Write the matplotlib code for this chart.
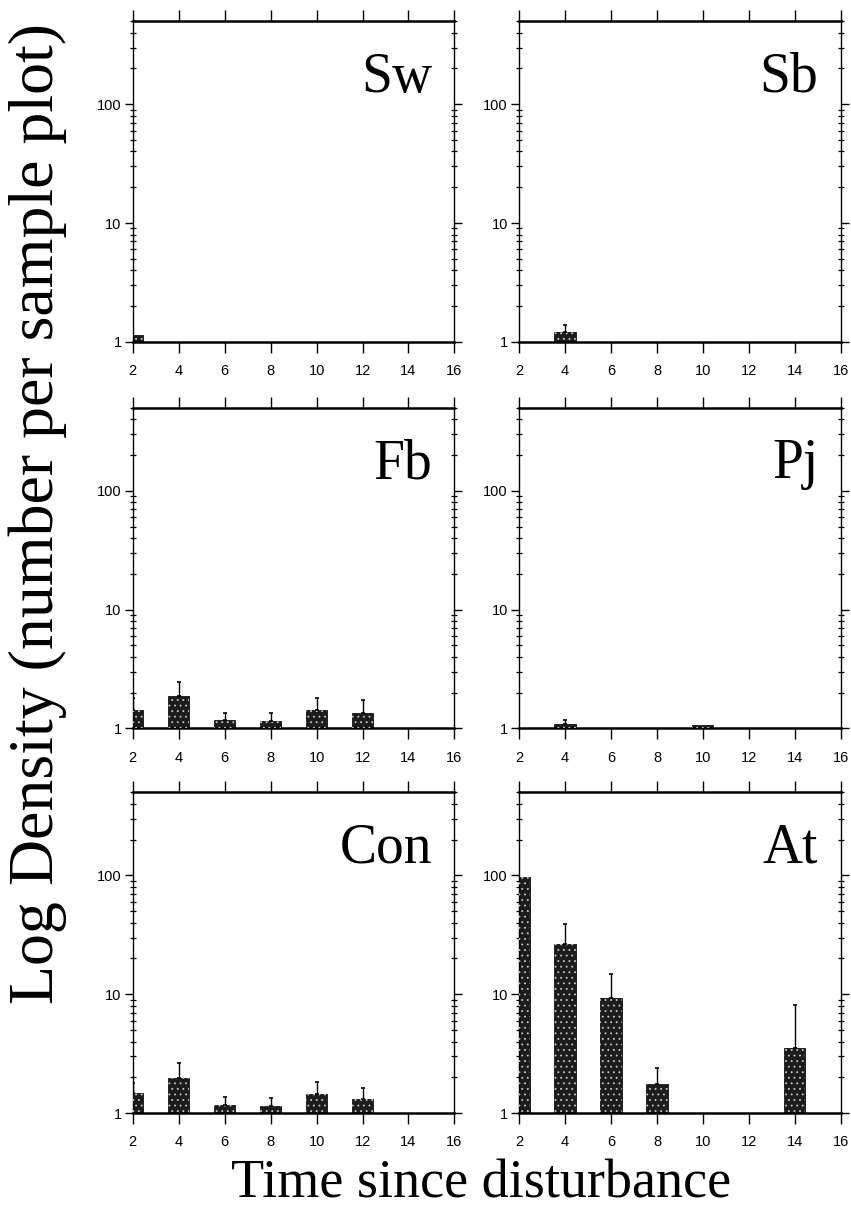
import numpy as np
import matplotlib
matplotlib.use("Agg")
import matplotlib.pyplot as plt
from matplotlib.ticker import LogLocator, NullFormatter, FixedLocator

# time since disturbance (bar positions)
years = [2, 4, 6, 8, 10, 12, 14]
nan = np.nan

# mean density per panel, nan where nothing was recorded
sw_mean = [1.15, nan, nan, nan, nan, nan, nan]
sb_mean = [nan, 1.2, nan, nan, nan, nan, nan]
fb_mean = [1.42, 1.86, 1.17, 1.16, 1.44, 1.34, nan]
pj_mean = [nan, 1.1, nan, nan, 1.07, nan, nan]
con_mean = [1.47, 1.97, 1.17, 1.15, 1.44, 1.31, nan]
at_mean = [97, 26.4, 9.3, 1.75, nan, nan, 3.5]

# upper error (added on top of the mean)
sw_err = [0, 0, 0, 0, 0, 0, 0]
sb_err = [0, 0.19, 0, 0, 0, 0, 0]
fb_err = [0.40, 0.58, 0.17, 0.18, 0.35, 0.41, 0]
pj_err = [0, 0.07, 0, 0, 0, 0, 0]
con_err = [0.33, 0.66, 0.19, 0.19, 0.38, 0.31, 0]
at_err = [0, 12.3, 5.4, 0.64, 0, 0, 4.6]

panels = [
    ("Sw", sw_mean, sw_err),
    ("Sb", sb_mean, sb_err),
    ("Fb", fb_mean, fb_err),
    ("Pj", pj_mean, pj_err),
    ("Con", con_mean, con_err),
    ("At", at_mean, at_err),
]

xticks = [2, 4, 6, 8, 10, 12, 14, 16]

serif = ["Liberation Serif", "DejaVu Serif"]
sans = ["Liberation Sans", "DejaVu Sans"]
plt.rcParams["hatch.linewidth"] = 0.6

fig = plt.figure(figsize=(8.51, 12.08), dpi=100)
fig.patch.set_facecolor("white")

lefts = [0.156, 0.610]
bottoms = [0.717, 0.397, 0.0786]
w, h = 0.378, 0.2655

for i, (name, mean, err) in enumerate(panels):
    row, col = divmod(i, 2)
    ax = fig.add_axes([lefts[col], bottoms[row], w, h])
    ax.set_yscale("log")

    mean = np.array(mean, dtype=float)
    up = np.array(err, dtype=float)
    ax.bar(years, mean, width=0.92, color="#1c1c1c", edgecolor="#111111", linewidth=0.6, zorder=2)
    # speckle texture like the scanned print
    ax.bar(years, mean, width=0.92, color="none", edgecolor="#c8c8c8", hatch="...", linewidth=0, zorder=3)
    has_err = up > 0
    xs = np.array(years)[has_err]
    ax.errorbar(xs, mean[has_err], yerr=[np.zeros(has_err.sum()), up[has_err]],
                fmt="none", ecolor="black", elinewidth=1.0, capsize=1.5, capthick=1.2, zorder=4)

    ax.set_xlim(2, 16)
    ax.set_ylim(1, 500)
    ax.xaxis.set_major_locator(FixedLocator(xticks))
    ax.set_xticklabels([str(t) for t in xticks], fontfamily=sans, fontsize=10.5)
    ax.yaxis.set_major_locator(FixedLocator([1, 10, 100]))
    ax.yaxis.set_minor_locator(LogLocator(base=10, subs=np.arange(2, 10)))
    ax.yaxis.set_minor_formatter(NullFormatter())
    ax.set_yticklabels(["1", "10", "100"], fontfamily=sans, fontsize=10.5)

    ax.tick_params(axis="x", which="major", direction="out", length=8, width=1.0,
                   top=True, bottom=True, pad=8)
    ax.tick_params(axis="y", which="major", direction="out", length=6, width=1.0,
                   left=True, right=True, pad=2)
    ax.tick_params(axis="y", which="minor", direction="inout", length=4, width=0.9,
                   left=True, right=True)

    for side in ("top", "bottom"):
        ax.spines[side].set_linewidth(1.8)
    for side in ("left", "right"):
        ax.spines[side].set_linewidth(1.0)

    ax.text(0.93, 0.78, name, transform=ax.transAxes, ha="right", va="baseline",
            fontsize=40, fontfamily=serif)

fig.text(0.565, 0.009, "Time since disturbance", ha="center", va="baseline",
         fontsize=39, fontfamily=serif)
fig.text(0.010, 0.575, "Log Density (number per sample plot)", ha="left", va="center",
         rotation=90, fontsize=46, fontfamily=serif)

fig.savefig("out.png", dpi=100)
